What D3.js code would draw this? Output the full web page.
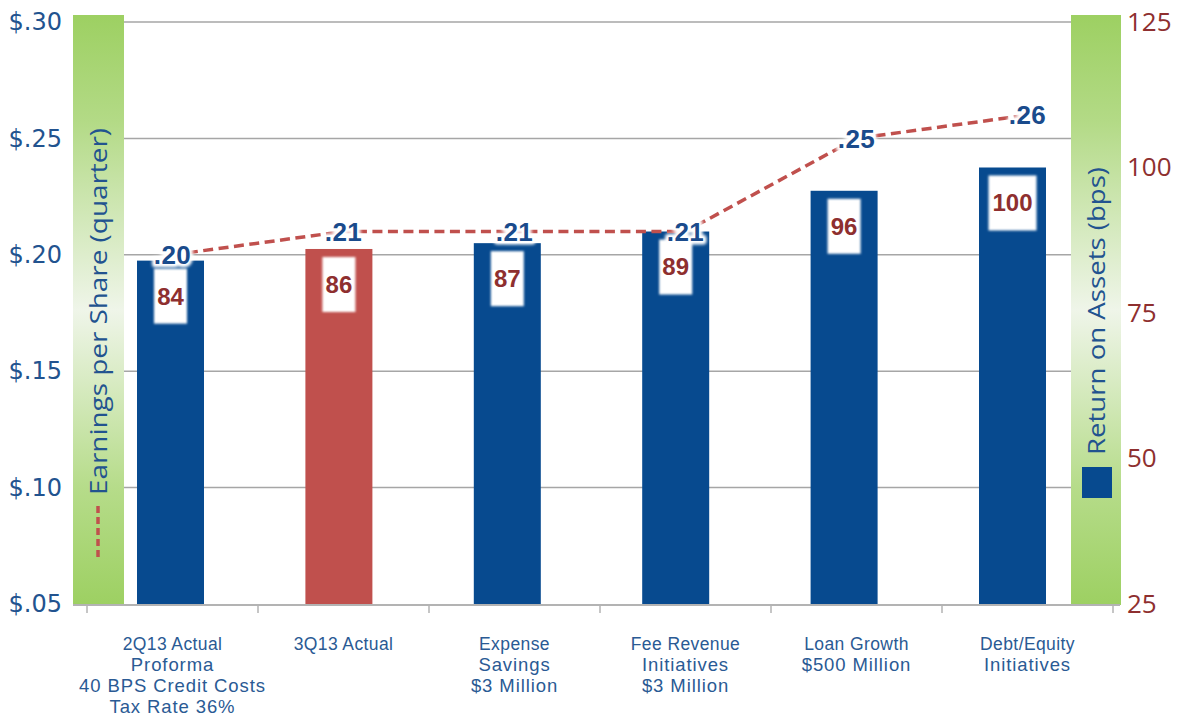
<!DOCTYPE html>
<html>
<head>
<meta charset="utf-8">
<script src="https://cdn.jsdelivr.net/npm/d3@7"></script>
<style>
  body { margin: 0; background: #fff; }
  svg { display: block; }
</style>
</head>
<body>
<svg id="chart" width="1179" height="725"></svg>
<script>
// Category labels, one entry per line of each label
const categoryLines = [
  ["2Q13 Actual", "Proforma", "40 BPS Credit Costs", "Tax Rate 36%"],
  ["3Q13 Actual"],
  ["Expense", "Savings", "$3 Million"],
  ["Fee Revenue", "Initiatives", "$3 Million"],
  ["Loan Growth", "$500 Million"],
  ["Debt/Equity", "Initiatives"]
];
const categories = categoryLines.map(l => l.join(" "));

// Return on assets (bps) -> bars, right axis
const roaBps = [84, 86, 87, 89, 96, 100];
// Earnings per share (quarter) -> dashed line, left axis
const epsQuarter = [0.20, 0.21, 0.21, 0.21, 0.25, 0.26];

const epsTicks = [0.05, 0.10, 0.15, 0.20, 0.25, 0.30];
const roaTicks = [25, 50, 75, 100, 125];

const actualCategory = "3Q13 Actual";
const epsTitle = "Earnings per Share (quarter)";
const roaTitle = "Return on Assets (bps)";

const BLUE = "#074a8f";
const RED = "#c0504d";
const AXIS_BLUE = "#22538f";
const DARK_RED = "#8e2f2f";

const svg = d3.select("#chart");
const plotTop = 22, plotBottom = 604, plotLeft = 124, plotRight = 1071;

const yEps = d3.scaleLinear().domain([0.05, 0.30]).range([plotBottom, plotTop]);
const yRoa = d3.scaleLinear().domain([25, 125]).range([plotBottom, plotTop]);
const xCat = d3.scaleBand().domain(categories).range([87, 1113]);
const xBar = d3.scalePoint().domain(categories).range([170.5, 1012.5]);
const barW = 67;

// ---- defs: band gradient and soft-edge filters
const defs = svg.append("defs");
const grad = defs.append("linearGradient").attr("id", "bandGrad")
  .attr("x1", 0).attr("y1", 0).attr("x2", 0).attr("y2", 1);
grad.append("stop").attr("offset", "0%").attr("stop-color", "#9dd062");
grad.append("stop").attr("offset", "18%").attr("stop-color", "#b3da86");
grad.append("stop").attr("offset", "50%").attr("stop-color", "#eff5e9");
grad.append("stop").attr("offset", "80%").attr("stop-color", "#b6dc8a");
grad.append("stop").attr("offset", "100%").attr("stop-color", "#9dd062");

defs.append("filter").attr("id", "soft").attr("x", "-20%").attr("y", "-20%").attr("width", "140%").attr("height", "140%")
  .append("feGaussianBlur").attr("stdDeviation", 0.9);
defs.append("filter").attr("id", "halo").attr("x", "-30%").attr("y", "-30%").attr("width", "160%").attr("height", "160%")
  .append("feGaussianBlur").attr("stdDeviation", 1.4);

// ---- side bands
[[73, 51], [1071, 50]].forEach(([x, w]) => {
  svg.append("rect").attr("x", x).attr("y", 15).attr("width", w).attr("height", plotBottom + 1 - 15)
    .attr("fill", "url(#bandGrad)");
});

// ---- gridlines
svg.append("g").selectAll("line")
  .data(epsTicks.filter(t => t > epsTicks[0]))
  .join("line")
  .attr("x1", plotLeft).attr("x2", plotRight)
  .attr("y1", d => yEps(d)).attr("y2", d => yEps(d))
  .attr("stroke", "#a6a6a6").attr("stroke-width", 1.5);

// ---- baseline and category boundary ticks
svg.append("line").attr("x1", 73).attr("x2", 1120)
  .attr("y1", plotBottom + 1).attr("y2", plotBottom + 1)
  .attr("stroke", "#b3b3b3").attr("stroke-width", 2);
const bounds = categories.map(c => xCat(c)).concat([xCat.range()[1]]);
svg.append("g").selectAll("line").data(bounds).join("line")
  .attr("x1", d => d).attr("x2", d => d)
  .attr("y1", plotBottom + 1).attr("y2", plotBottom + 9)
  .attr("stroke", "#b3b3b3").attr("stroke-width", 1.5);

// ---- left axis (EPS)
svg.append("g").attr("transform", "translate(70,0)")
  .call(d3.axisLeft(yEps).tickValues(epsTicks).tickSize(0).tickPadding(8)
    .tickFormat(d => "$" + d3.format(".2f")(d).slice(1)))
  .call(g => g.select(".domain").remove())
  .selectAll("text")
  .attr("font-family", "DejaVu Sans").attr("font-size", 24).attr("fill", AXIS_BLUE);

// ---- right axis (ROA)
svg.append("g").attr("transform", "translate(1120,0)")
  .call(d3.axisRight(yRoa).tickValues(roaTicks).tickSize(0).tickPadding(7))
  .call(g => g.select(".domain").remove())
  .selectAll("text")
  .attr("font-family", "Open Sans").attr("font-size", 26).attr("fill", DARK_RED);

// ---- bars
svg.append("g").selectAll("rect")
  .data(categories.map((c, i) => ({ c, v: roaBps[i] })))
  .join("rect")
  .attr("x", d => xBar(d.c) - barW / 2)
  .attr("y", d => yRoa(d.v))
  .attr("width", barW)
  .attr("height", d => plotBottom - yRoa(d.v))
  .attr("fill", d => d.c === actualCategory ? RED : BLUE);

// ---- ROA value boxes
const roaG = svg.append("g");
categories.forEach((c, i) => {
  const v = roaBps[i];
  const w = String(v).length > 2 ? 48 : 33;
  const top = yRoa(v) + 8;
  roaG.append("rect")
    .attr("x", xBar(c) - w / 2).attr("y", top)
    .attr("width", w).attr("height", 55)
    .attr("fill", "#fff").attr("filter", "url(#soft)");
  roaG.append("text")
    .attr("x", xBar(c)).attr("y", top + 27.5).attr("dy", "0.35em")
    .attr("text-anchor", "middle")
    .attr("font-family", "Liberation Sans, Arial, sans-serif")
    .attr("font-weight", "bold").attr("font-size", 24)
    .attr("fill", DARK_RED)
    .text(v);
});

// ---- EPS dashed line
const cx = c => xCat(c) + xCat.bandwidth() / 2;
svg.append("path")
  .datum(epsQuarter)
  .attr("d", d3.line().x((d, i) => cx(categories[i])).y(d => yEps(d)))
  .attr("fill", "none").attr("stroke", RED)
  .attr("stroke-width", 3.5).attr("stroke-dasharray", "10,5.5");

// ---- EPS labels with white halo
const fmtEps = d => d3.format(".2f")(d).slice(1);
const epsG = svg.append("g")
  .attr("font-family", "Liberation Sans, Arial, sans-serif")
  .attr("font-weight", "bold").attr("font-size", 26)
  .attr("letter-spacing", 0.5)
  .attr("text-anchor", "middle");
epsG.selectAll("text.halo").data(epsQuarter).join("text")
  .attr("class", "halo")
  .attr("x", (d, i) => cx(categories[i])).attr("y", d => yEps(d)).attr("dy", "0.35em")
  .attr("fill", "#fff").attr("stroke", "#fff").attr("stroke-width", 7)
  .attr("stroke-linejoin", "round").attr("filter", "url(#halo)")
  .text(fmtEps);
epsG.selectAll("text.val").data(epsQuarter).join("text")
  .attr("class", "val")
  .attr("x", (d, i) => cx(categories[i])).attr("y", d => yEps(d)).attr("dy", "0.35em")
  .attr("fill", "#1a4b8c")
  .text(fmtEps);

// ---- category labels
const catG = svg.append("g")
  .attr("font-family", "Liberation Sans, Arial, sans-serif")
  .attr("fill", "#2a5a94").attr("text-anchor", "middle");
categoryLines.forEach((lines, i) => {
  const t = catG.append("text").attr("x", cx(categories[i])).attr("y", 650);
  lines.forEach((ln, j) => {
    t.append("tspan")
      .attr("x", cx(categories[i]))
      .attr("y", j === 0 ? 650 : 650 + j * 21)
      .attr("font-size", j === 0 ? 17.5 : 18.5)
      .attr("letter-spacing", j === 0 ? 0.4 : 0.9)
      .text(ln);
  });
});

// ---- band titles and legend keys
svg.append("text")
  .attr("transform", "translate(99,311.5) rotate(-90)")
  .attr("text-anchor", "middle").attr("dy", "0.35em")
  .attr("font-family", "Open Sans").attr("font-size", 24)
  .attr("fill", AXIS_BLUE)
  .attr("textLength", 367).attr("lengthAdjust", "spacingAndGlyphs")
  .text(epsTitle);
svg.append("line")
  .attr("x1", 98).attr("x2", 98).attr("y1", 506).attr("y2", 560)
  .attr("stroke", RED).attr("stroke-width", 3.5).attr("stroke-dasharray", "7,4");

svg.append("text")
  .attr("transform", "translate(1097,311) rotate(-90)")
  .attr("text-anchor", "middle").attr("dy", "0.35em")
  .attr("font-family", "Open Sans").attr("font-size", 24)
  .attr("fill", AXIS_BLUE)
  .attr("textLength", 288).attr("lengthAdjust", "spacingAndGlyphs")
  .text(roaTitle);
svg.append("rect")
  .attr("x", 1082).attr("y", 467).attr("width", 30).attr("height", 31)
  .attr("fill", BLUE);
</script>
</body>
</html>
